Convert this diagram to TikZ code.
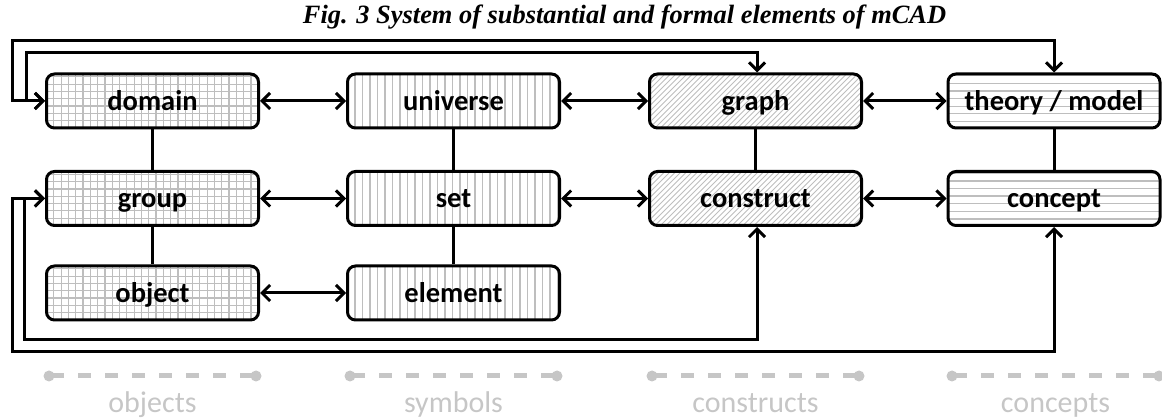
\documentclass[tikz,border=0pt]{standalone}
\usepackage{fontspec}
\setmainfont{Carlito}
\newfontfamily\titlefont{Liberation Serif}
\usetikzlibrary{arrows.meta}
\definecolor{hatch}{HTML}{BEBEBE}
\definecolor{legendgray}{HTML}{C6C6C6}
\tikzset{
  box/.style={line width=3pt, rounded corners=8pt, minimum width=212pt, minimum height=54pt,
    inner sep=0pt, text height=20pt, text depth=1pt,
    font=\fontsize{28.5}{30}\selectfont\bfseries, postaction={draw, line width=3pt}},
  gridfill/.style={path picture={
     \foreach \k in {1,...,30}{\draw[hatch, line width=1.2pt] ([xshift=\k*7.3pt]path picture bounding box.south west) -- ([xshift=\k*7.3pt]path picture bounding box.north west);}
     \foreach \k in {1,...,8}{\draw[hatch, line width=1.2pt] ([yshift=\k*7.3pt]path picture bounding box.south west) -- ([yshift=\k*7.3pt]path picture bounding box.south east);}
  }},
  vfill/.style={path picture={
     \foreach \k in {1,...,30}{\draw[hatch, line width=1.3pt] ([xshift=\k*7.5pt]path picture bounding box.south west) -- ([xshift=\k*7.5pt]path picture bounding box.north west);}
  }},
  hfill/.style={path picture={
     \foreach \k in {1,...,7}{\draw[hatch, line width=1.3pt] ([yshift=\k*7.6pt-1pt]path picture bounding box.south west) -- ([yshift=\k*7.6pt-1pt]path picture bounding box.south east);}
  }},
  dfill/.style={path picture={
     \foreach \k in {-12,...,40}{\draw[hatch, line width=0.8pt] ([xshift=\k*5.5pt]path picture bounding box.south west) -- ++(60pt,60pt);}
  }},
  biarrow/.style={line width=3pt, {Straight Barb[length=8pt,width=16pt]}-{Straight Barb[length=8pt,width=16pt]}},
  plain/.style={line width=3pt},
  legendline/.style={legendgray, line width=5pt, dash pattern=on 13pt off 14pt, dash phase=-2pt},
  legendtext/.style={text=legendgray, font=\fontsize{30}{32}\selectfont, anchor=base},
}
\begin{document}
\begin{tikzpicture}[x=1pt,y=-1pt]
\useasboundingbox (0,0) rectangle (1162,419);

\node (title) at (624.5,17) {\titlefont\bfseries\itshape\fontsize{26.4}{28}\selectfont Fig. 3 System of substantial and formal elements of mCAD};

% row 1
\node[box, gridfill] (domain)   at (152.5,101) {domain};
\node[box, vfill]    (universe) at (453.5,101) {universe};
\node[box, dfill]    (graph)    at (755.5,101) {graph};
\node[box, hfill]    (theory)   at (1054,101)  {theory / model};
% row 2
\node[box, gridfill] (group)     at (152.5,198.5) {group};
\node[box, vfill]    (set)       at (453.5,198.5) {set};
\node[box, dfill]    (construct) at (755.5,198.5) {construct};
\node[box, hfill]    (concept)   at (1054,198.5)  {concept};
% row 3
\node[box, gridfill] (object)  at (152.5,293) {object};
\node[box, vfill]    (element) at (453.5,293) {element};

% vertical links
\draw[plain] (domain) -- (group);
\draw[plain] (group) -- (object);
\draw[plain] (universe) -- (set);
\draw[plain] (set) -- (element);
\draw[plain] (graph) -- (construct);
\draw[plain] (theory) -- (concept);

% horizontal links
\draw[biarrow] (domain) -- (universe);
\draw[biarrow] (universe) -- (graph);
\draw[biarrow] (graph) -- (theory);
\draw[biarrow] (group) -- (set);
\draw[biarrow] (set) -- (construct);
\draw[biarrow] (construct) -- (concept);
\draw[biarrow] (object) -- (element);

% feedback loops
\coordinate (tA) at (12,41);
\coordinate (tB) at (26,53);
\coordinate (bA) at (24,340);
\coordinate (bB) at (12,352);
\draw[biarrow] (domain.west) -| (tA) -| (theory.north);
\draw[biarrow] (domain.west) -| (tB) -| ([xshift=1.5pt]graph.north);
\draw[biarrow] (group.west) -| (bA) -| ([xshift=1.5pt]construct.south);
\draw[biarrow] (group.west) -| (bB) -| (concept.south);

% legend
\foreach \cx/\lab [count=\i] in {152.5/objects, 453.5/symbols, 755.5/constructs, 1055.5/concepts} {
  \coordinate (la\i) at (\cx-103.5,376);
  \coordinate (lb\i) at (\cx+103.5,376);
  \draw[legendline] (la\i) -- (lb\i);
  \fill[legendgray] (la\i) circle (5.5pt) (lb\i) circle (5.5pt);
  \node[legendtext] (lab\i) at (\cx,413) {\lab};
}
\end{tikzpicture}
\end{document}
